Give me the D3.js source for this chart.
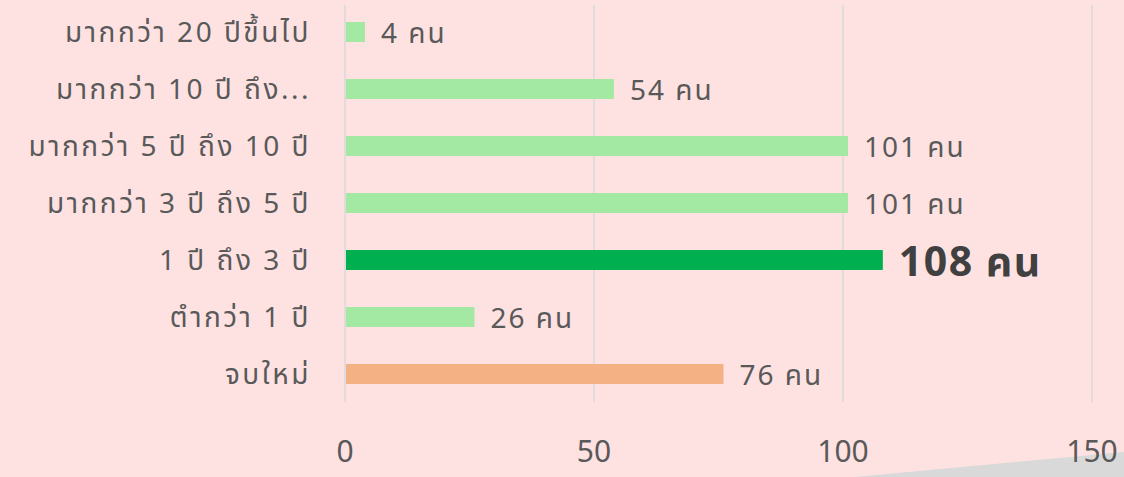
<!DOCTYPE html>
<html>
<head>
<meta charset="utf-8">
<script src="https://cdn.jsdelivr.net/npm/d3@7"></script>
<style>
  html, body { margin: 0; padding: 0; background: #fee2e2; }
  svg { display: block; font-family: 'Noto Sans', 'Noto Sans Thai', 'DejaVu Sans', sans-serif; }
</style>
</head>
<body>
<div id="chart"></div>
<script>
// Categories, top to bottom
var categories = ['มากกว่า 20 ปีขึ้นไป', 'มากกว่า 10 ปี ถึง...', 'มากกว่า 5 ปี ถึง 10 ปี',
    'มากกว่า 3 ปี ถึง 5 ปี', '1 ปี ถึง 3 ปี', 'ตํากว่า 1 ปี', 'จบใหม่'];
var counts = [4, 54, 101, 101, 108, 26, 76];
var valueLabels = ['4 คน', '54 คน', '101 คน', '101 คน', '108 คน', '26 คน', '76 คน'];
var xTicks = [0, 50, 100, 150];
var highlight = 4;

var width = 1124, height = 477;
var svg = d3.select('#chart').append('svg')
    .attr('width', width)
    .attr('height', height);

svg.append('rect').attr('width', width).attr('height', height).attr('fill', '#fee2e2');

// grey corner shape
svg.append('polygon')
    .attr('points', '855,477 1124,452 1124,477')
    .attr('fill', '#d9d9d9');

var x = d3.scaleLinear().domain([0, 150]).range([345, 1092]);
var y = d3.scaleBand().domain(categories).range([3.5, 402.5]).paddingInner(0.65).paddingOuter(0.325);

// gridlines
svg.selectAll('.grid')
    .data(xTicks)
    .enter().append('line')
    .attr('x1', function(d) { return x(d); })
    .attr('x2', function(d) { return x(d); })
    .attr('y1', 5)
    .attr('y2', 402)
    .attr('stroke', '#d9d9d9')
    .attr('stroke-width', 1.5);

// tick labels
svg.selectAll('.tick-label')
    .data(xTicks)
    .enter().append('text')
    .attr('x', function(d) { return x(d); })
    .attr('y', 462)
    .attr('text-anchor', 'middle')
    .attr('font-size', '30px')
    .attr('fill', '#595959')
    .text(function(d) { return d; });

// bars
svg.selectAll('.bar')
    .data(counts)
    .enter().append('rect')
    .attr('x', x(0) + 1)
    .attr('y', function(d, i) { return y(categories[i]); })
    .attr('height', y.bandwidth())
    .attr('width', function(d) { return x(d) - x(0) - 1; })
    .attr('fill', function(d, i) {
        if (i === highlight) return '#00b050';
        if (i === categories.length - 1) return '#f4b183';
        return '#a3e8a3';
    });

// category labels
svg.selectAll('.cat')
    .data(categories)
    .enter().append('text')
    .attr('x', 311)
    .attr('y', function(d) { return y(d) + y.bandwidth() / 2; })
    .attr('dy', '0.36em')
    .attr('text-anchor', 'end')
    .attr('font-size', '28px')
    .attr('letter-spacing', '2.5px')
    .attr('fill', '#595959')
    .text(function(d) { return d; });

// value labels
svg.selectAll('.val')
    .data(counts)
    .enter().append('text')
    .attr('x', function(d) { return x(d) + 16; })
    .attr('y', function(d, i) { return y(categories[i]) + y.bandwidth() / 2; })
    .attr('dy', '0.38em')
    .attr('font-size', function(d, i) { return i === highlight ? '41px' : '28px'; })
    .attr('font-weight', function(d, i) { return i === highlight ? 'bold' : 'normal'; })
    .attr('letter-spacing', function(d, i) { return i === highlight ? '1.5px' : '2px'; })
    .attr('fill', function(d, i) { return i === highlight ? '#404040' : '#595959'; })
    .text(function(d, i) { return valueLabels[i]; });
</script>
</body>
</html>
